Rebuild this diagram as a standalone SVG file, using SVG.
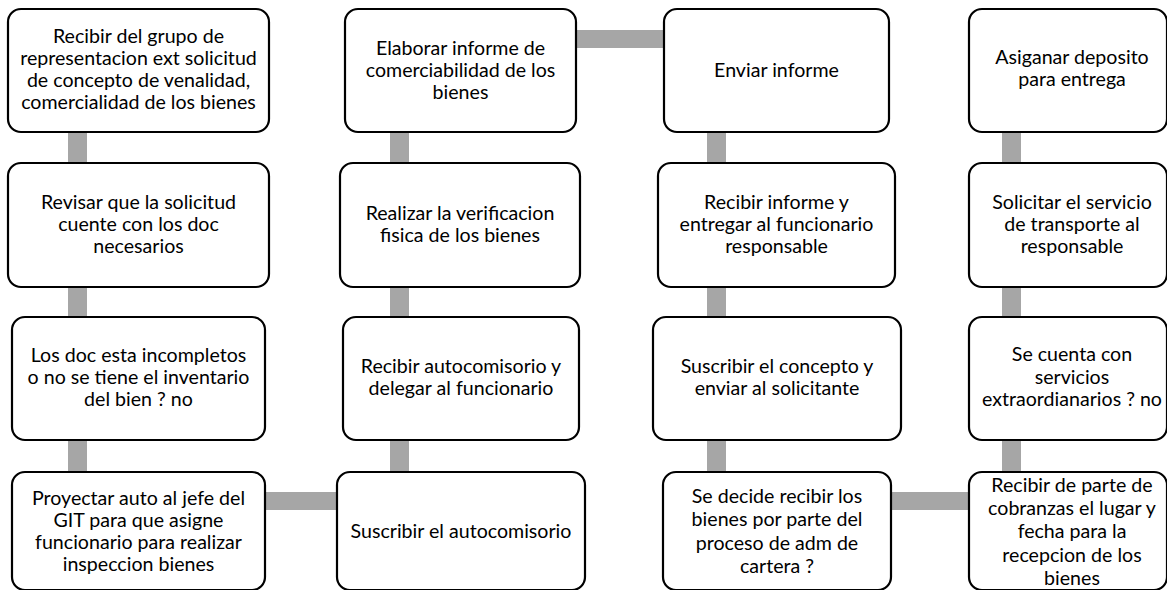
<svg xmlns="http://www.w3.org/2000/svg" width="1167" height="590" viewBox="0 0 1167 590">
<style>
.box{fill:#fff;stroke:#000;stroke-width:2.2}
.c{fill:#a6a6a6}
text{font-family:Lato,"Liberation Sans",sans-serif;font-size:19.6px;fill:#000;text-anchor:middle}
</style>
<rect width="1167" height="590" fill="#fff"/>
<g id="connectors">
<rect class="c" x="68" y="131" width="19" height="33"/>
<rect class="c" x="68" y="286" width="19" height="32"/>
<rect class="c" x="68" y="439" width="19" height="34"/>
<rect class="c" x="264" y="492" width="74" height="18"/>
<rect class="c" x="390" y="439" width="19" height="34"/>
<rect class="c" x="390" y="286" width="19" height="32"/>
<rect class="c" x="390" y="131" width="19" height="33"/>
<rect class="c" x="575" y="30" width="90" height="18"/>
<rect class="c" x="707" y="131" width="19" height="33"/>
<rect class="c" x="707" y="286" width="19" height="32"/>
<rect class="c" x="707" y="439" width="19" height="34"/>
<rect class="c" x="890" y="492" width="80" height="18"/>
<rect class="c" x="1002" y="439" width="19" height="34"/>
<rect class="c" x="1002" y="286" width="19" height="32"/>
<rect class="c" x="1002" y="131" width="19" height="33"/>
</g>
<g id="n1"><rect class="box" x="8" y="9" width="261" height="123" rx="13"/>
<text x="138.5" y="43">Recibir del grupo de</text><text x="138.5" y="65">representacion ext solicitud</text><text x="138.5" y="87">de concepto de venalidad,</text><text x="138.5" y="109">comercialidad de los bienes</text></g>
<g id="n2"><rect class="box" x="8" y="163" width="261" height="124" rx="13"/>
<text x="138.5" y="209">Revisar que la solicitud</text><text x="138.5" y="231">cuente con los doc</text><text x="138.5" y="253">necesarios</text></g>
<g id="n3"><rect class="box" x="12" y="317" width="253" height="123" rx="13"/>
<text x="138.5" y="362">Los doc esta incompletos</text><text x="138.5" y="384">o no se tiene el inventario</text><text x="138.5" y="406">del bien ? no</text></g>
<g id="n4"><rect class="box" x="12" y="472" width="253" height="118" rx="13"/>
<text x="138.5" y="505">Proyectar auto al jefe del</text><text x="138.5" y="527">GIT para que asigne</text><text x="138.5" y="549">funcionario para realizar</text><text x="138.5" y="571">inspeccion bienes</text></g>
<g id="n5"><rect class="box" x="337" y="472" width="248" height="118" rx="13"/>
<text x="461" y="538">Suscribir el autocomisorio</text></g>
<g id="n6"><rect class="box" x="343" y="317" width="236" height="123" rx="13"/>
<text x="461" y="373">Recibir autocomisorio  y</text><text x="461" y="395">delegar al funcionario</text></g>
<g id="n7"><rect class="box" x="340" y="163" width="240" height="124" rx="13"/>
<text x="460" y="220">Realizar la verificacion</text><text x="460" y="242">fisica de los bienes</text></g>
<g id="n8"><rect class="box" x="345" y="9" width="231" height="123" rx="13"/>
<text x="460.5" y="55">Elaborar informe de</text><text x="460.5" y="77">comerciabilidad de los</text><text x="460.5" y="99">bienes</text></g>
<g id="n9"><rect class="box" x="664" y="9" width="225" height="123" rx="13"/>
<text x="776.5" y="77">Enviar informe</text></g>
<g id="n10"><rect class="box" x="658" y="163" width="237" height="124" rx="13"/>
<text x="776.5" y="209">Recibir informe y</text><text x="776.5" y="231">entregar al funcionario</text><text x="776.5" y="253">responsable</text></g>
<g id="n11"><rect class="box" x="653" y="317" width="248" height="123" rx="13"/>
<text x="777" y="373">Suscribir el concepto y</text><text x="777" y="395">enviar al solicitante</text></g>
<g id="n12"><rect class="box" x="663" y="472" width="228" height="118" rx="13"/>
<text x="777" y="503">Se decide recibir los</text><text x="777" y="526">bienes por parte del</text><text x="777" y="550">proceso de adm de</text><text x="777" y="573">cartera ?</text></g>
<g id="n13"><rect class="box" x="969" y="472" width="198" height="118" rx="13"/>
<text x="1072" y="492">Recibir de parte de</text><text x="1072" y="515">cobranzas el lugar y</text><text x="1072" y="538">fecha para la</text><text x="1072" y="562">recepcion de los</text><text x="1072" y="585">bienes</text></g>
<g id="n14"><rect class="box" x="969" y="317" width="198" height="123" rx="13"/>
<text x="1072" y="361">Se cuenta con</text><text x="1072" y="384">servicios</text><text x="1072" y="406">extraordianarios ? no</text></g>
<g id="n15"><rect class="box" x="969" y="163" width="198" height="124" rx="13"/>
<text x="1072" y="209">Solicitar el servicio</text><text x="1072" y="231">de transporte al</text><text x="1072" y="253">responsable</text></g>
<g id="n16"><rect class="box" x="969" y="9" width="198" height="123" rx="13"/>
<text x="1072" y="64">Asiganar deposito</text><text x="1072" y="86">para entrega</text></g>
</svg>
